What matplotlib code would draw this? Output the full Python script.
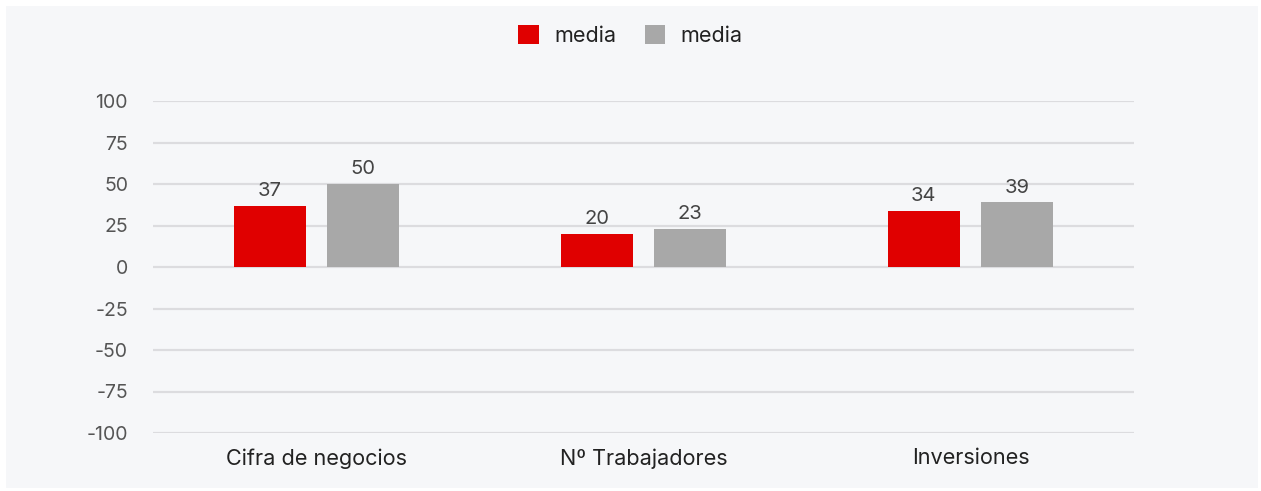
import matplotlib
matplotlib.use("Agg")
import matplotlib.pyplot as plt
from matplotlib.patches import Rectangle
import numpy as np

categories = ["Cifra de negocios", "Nº Trabajadores", "Inversiones"]
series_names = ["media", "media"]
values_red = [37, 20, 34]
values_gray = [50, 23, 39]
yticks = [-100, -75, -50, -25, 0, 25, 50, 75, 100]

W, H = 1261, 491
fig = plt.figure(figsize=(W / 100, H / 100), dpi=100, facecolor="white")
plt.rcParams['font.family'] = ['Inter', 'DejaVu Sans']
fig.patches.append(Rectangle((6 / W, 3 / H), (1252) / W, (482) / H,
                             transform=fig.transFigure, facecolor="#f6f7f9",
                             edgecolor="none", zorder=-10))

left, right = 153 / W, 1134 / W
top, bottom = 1 - 101 / H, 1 - 433 / H
ax = fig.add_axes([left, bottom, right - left, top - bottom])
ax.set_facecolor("none")

x = np.arange(len(categories))
bw = 0.22
off = 0.143
b1 = ax.bar(x - off, values_red, bw, color="#e00000", label=series_names[0], zorder=3)
b2 = ax.bar(x + off, values_gray, bw, color="#a8a8a8", label=series_names[1], zorder=3)

for bars, vals in ((b1, values_red), (b2, values_gray)):
    for r, v in zip(bars, vals):
        ax.annotate(str(v), (r.get_x() + r.get_width() / 2, v), xytext=(0, 4),
                    textcoords="offset points", ha="center", va="bottom",
                    fontsize=14.5, color="#444444", zorder=4)

ax.set_xlim(-0.5, 2.5)
ax.set_ylim(-100, 100)
ax.set_yticks(yticks)
ax.set_yticklabels([str(t) for t in yticks])
ax.set_xticks(x)
ax.set_xticklabels(categories)
ax.grid(axis="y", color="#dcdcdf", linewidth=1.6, zorder=1)
ax.set_axisbelow(True)
for s in ax.spines.values():
    s.set_visible(False)
ax.tick_params(axis="y", length=0, pad=18, labelsize=14, labelcolor="#555555")
ax.tick_params(axis="x", length=0, pad=11, labelsize=15.6, labelcolor="#222222")

leg = fig.legend(loc="upper center", bbox_to_anchor=(0.5, 1 - 6 / H), ncol=2,
                 frameon=False, fontsize=15.5, handlelength=0.95, handleheight=0.95,
                 handletextpad=0.7, columnspacing=1.35, labelcolor="#222222")

fig.savefig("out.png", dpi=100, facecolor="white")
